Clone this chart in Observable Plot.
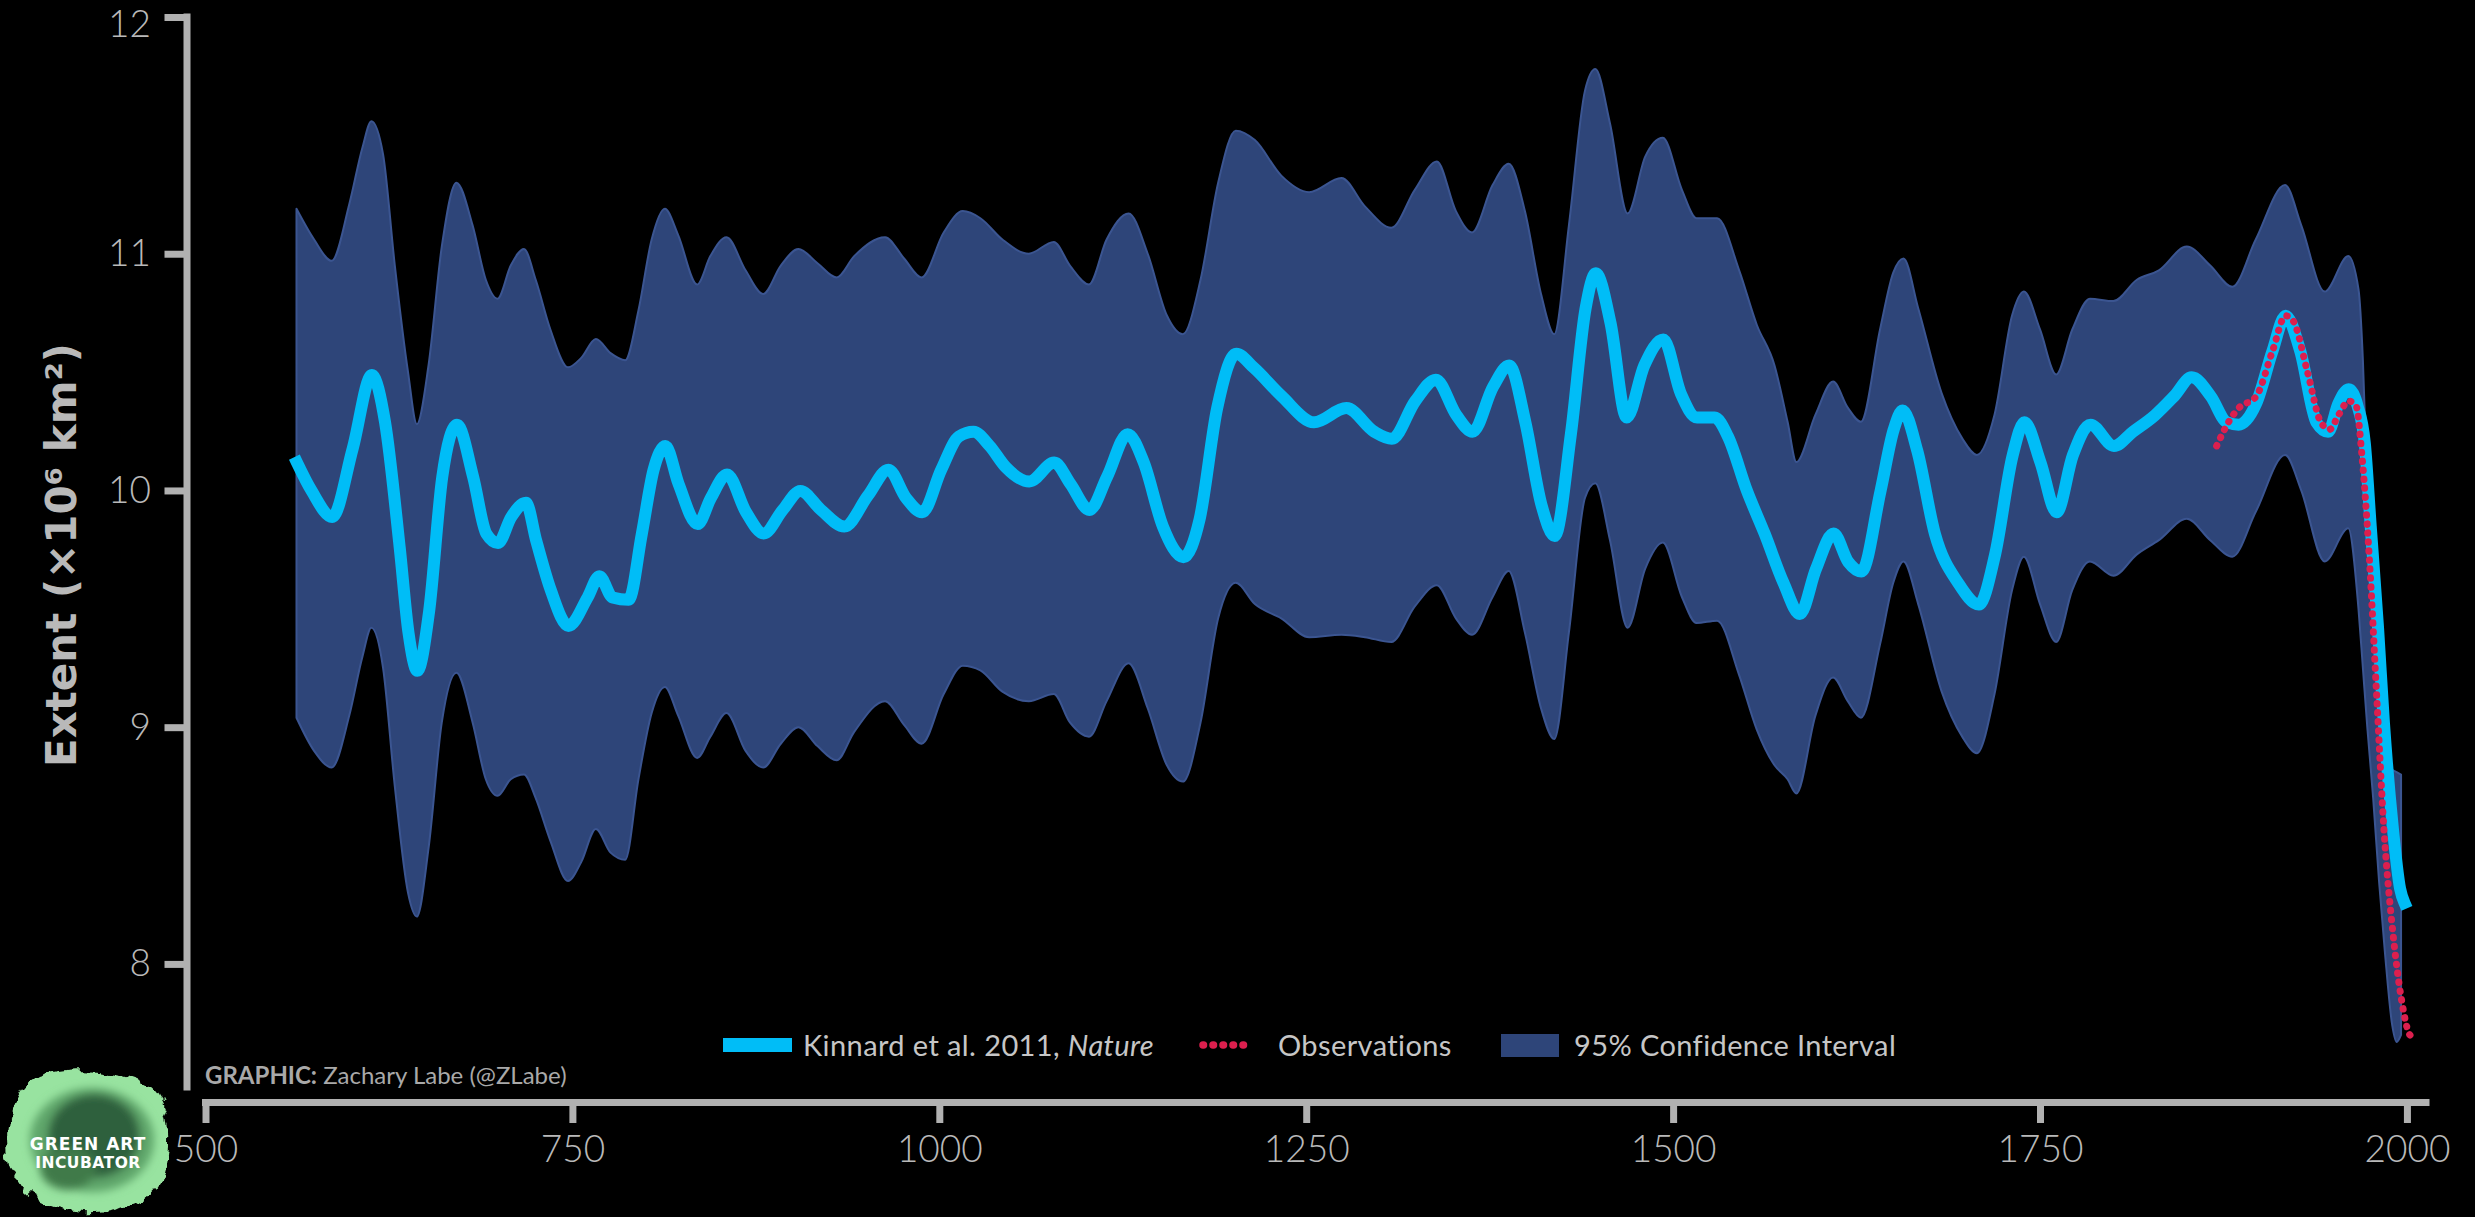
<!DOCTYPE html>
<html>
<head>
<meta charset="utf-8">
<script src="https://cdn.jsdelivr.net/npm/d3@7"></script>
<script src="https://cdn.jsdelivr.net/npm/@observablehq/plot@0.6"></script>
<style>
  html, body { margin: 0; padding: 0; background: #000; }
  #wrap { position: relative; width: 2475px; height: 1217px; background: #000; overflow: hidden;
          font-family: Lato, "Open Sans", "DejaVu Sans", sans-serif; }
  #chart svg { display: block; }
  .leg-text { position: absolute; height: 40px; line-height: 40px; font-size: 29px; letter-spacing: 0.4px; color: #c6c6c6; white-space: nowrap; }
  .sw { position: absolute; }
  #credit { position: absolute; left: 205px; top: 1061px; font-size: 24px; line-height: 28px; color: #a9a9a9; white-space: nowrap; }
  #credit b { font-weight: 700; }
  #logo { position: absolute; left: 0; top: 1064px; }
</style>
</head>
<body>
<div id="wrap">
  <div id="chart"></div>
  <div id="legend"></div>
  <div id="credit"></div>
  <svg id="logo" width="180" height="153" viewBox="0 0 180 153">
    <defs>
      <filter id="rough" x="-20%" y="-20%" width="140%" height="140%">
        <feTurbulence type="fractalNoise" baseFrequency="0.07" numOctaves="2" seed="3" result="n"/>
        <feDisplacementMap in="SourceGraphic" in2="n" scale="18" xChannelSelector="R" yChannelSelector="G"/>
      </filter>
      <filter id="soft"><feGaussianBlur stdDeviation="4"/></filter>
    </defs>
    <g filter="url(#rough)">
      <path d="M38,12 C70,0 122,4 150,22 C174,40 170,90 162,114 C152,140 112,150 82,148 C46,145 16,130 10,98 C4,66 12,26 38,12Z" fill="#98e3a0"/>
    </g>
    <g filter="url(#soft)">
      <ellipse cx="92" cy="76" rx="62" ry="52" fill="#5fa66a"/>
      <ellipse cx="94" cy="72" rx="46" ry="42" fill="#2f603c"/>
      <ellipse cx="68" cy="104" rx="28" ry="22" fill="#3f7a4a"/>
    </g>
    <text x="88" y="86" text-anchor="middle" font-family="DejaVu Sans, sans-serif" font-weight="bold" font-size="17" letter-spacing="1" fill="#ffffff">GREEN ART</text>
    <text x="88" y="104" text-anchor="middle" font-family="DejaVu Sans, sans-serif" font-weight="bold" font-size="15.5" letter-spacing="0.5" fill="#ffffff">INCUBATOR</text>
  </svg>
</div>
<script>
// ---------------- data ----------------
const xTicks = [500, 750, 1000, 1250, 1500, 1750, 2000];
const yTicks = [8, 9, 10, 11, 12];
const yLabel = "Extent (×10⁶ km²)";
const legendLabels = ["Kinnard et al. 2011, ", "Nature", "Observations", "95% Confidence Interval"];
const creditBold = "GRAPHIC:";
const creditText = " Zachary Labe (@ZLabe)";

// Kinnard et al. 2011 reconstruction (smoothed)
const kinnardYears = [
  562, 572, 586, 600, 613, 622, 632, 638, 644, 652,
  661, 671, 682, 691, 699, 708, 718, 725, 735, 747,
  760, 768, 777, 788, 797, 805, 813, 822, 835, 844,
  855, 868, 880, 893, 905, 919, 935, 951, 965, 977,
  988, 1001, 1013, 1023, 1034, 1045, 1061, 1078, 1089, 1102,
  1114, 1128, 1139, 1152, 1166, 1177, 1189, 1202, 1214, 1233,
  1255, 1277, 1296, 1308, 1324, 1338, 1352, 1363, 1377, 1388,
  1399, 1410, 1419, 1430, 1440, 1447, 1457, 1468, 1480, 1493,
  1505, 1516, 1528, 1537, 1550, 1562, 1575, 1586, 1597, 1609,
  1619, 1628, 1641, 1650, 1656, 1666, 1678, 1694, 1708, 1719,
  1731, 1739, 1750, 1761, 1772, 1784, 1800, 1813, 1828, 1841,
  1853, 1866, 1877, 1885, 1897, 1908, 1917, 1927, 1938, 1946,
  1953, 1960, 1966, 1971, 1975, 1980, 1984, 1990, 1995, 1998
];
const kinnardExtent = [
  10.12, 10.00, 9.89, 10.18, 10.49, 10.29, 9.76, 9.40, 9.24, 9.49,
  10.06, 10.28, 10.06, 9.82, 9.78, 9.89, 9.95, 9.79, 9.58, 9.43,
  9.55, 9.64, 9.55, 9.54, 9.82, 10.09, 10.19, 10.03, 9.86, 9.97,
  10.07, 9.91, 9.82, 9.92, 10.00, 9.92, 9.85, 9.98, 10.09, 9.97,
  9.91, 10.09, 10.23, 10.25, 10.19, 10.10, 10.04, 10.12, 10.03, 9.92,
  10.06, 10.24, 10.12, 9.85, 9.72, 9.88, 10.35, 10.58, 10.52, 10.40,
  10.29, 10.35, 10.25, 10.22, 10.38, 10.47, 10.32, 10.25, 10.44, 10.53,
  10.29, 9.94, 9.81, 10.24, 10.77, 10.92, 10.71, 10.31, 10.53, 10.64,
  10.41, 10.31, 10.31, 10.23, 10.00, 9.82, 9.61, 9.48, 9.67, 9.82,
  9.70, 9.66, 10.00, 10.26, 10.34, 10.17, 9.82, 9.61, 9.52, 9.73,
  10.15, 10.29, 10.12, 9.91, 10.15, 10.28, 10.19, 10.25, 10.32, 10.40,
  10.48, 10.40, 10.29, 10.28, 10.37, 10.59, 10.74, 10.59, 10.29, 10.25,
  10.37, 10.43, 10.36, 10.20, 9.85, 9.42, 9.02, 8.58, 8.32, 8.26
];

// 95% confidence interval
const ciYears = [
  562, 574, 586, 598, 607, 613, 621, 629, 638, 644,
  652, 661, 671, 682, 691, 699, 708, 717, 725, 735,
  747, 756, 766, 776, 786, 795, 804, 813, 822, 835,
  844, 855, 868, 880, 892, 904, 917, 930, 942, 963,
  976, 988, 1003, 1016, 1028, 1043, 1061, 1078, 1089, 1102,
  1114, 1129, 1142, 1155, 1166, 1178, 1190, 1202, 1215, 1233,
  1252, 1274, 1290, 1308, 1324, 1339, 1352, 1363, 1377, 1388,
  1399, 1410, 1419, 1429, 1440, 1447, 1457, 1469, 1481, 1493,
  1506, 1516, 1530, 1545, 1557, 1569, 1578, 1584, 1597, 1609,
  1619, 1628, 1641, 1650, 1657, 1667, 1683, 1697, 1707, 1719,
  1731, 1739, 1750, 1761, 1772, 1784, 1800, 1816, 1831, 1850,
  1866, 1881, 1897, 1917, 1928, 1944, 1960, 1967, 1970, 1973,
  1977, 1981, 1985, 1990, 1993, 1996
];
const ciUpper = [
  11.19, 11.06, 10.97, 11.21, 11.45, 11.56, 11.42, 10.95, 10.50, 10.28,
  10.53, 11.03, 11.30, 11.12, 10.89, 10.81, 10.95, 11.02, 10.89, 10.68,
  10.52, 10.56, 10.64, 10.58, 10.55, 10.76, 11.06, 11.19, 11.08, 10.87,
  10.99, 11.07, 10.93, 10.83, 10.95, 11.02, 10.96, 10.90, 10.99, 11.07,
  10.98, 10.90, 11.09, 11.18, 11.15, 11.06, 11.00, 11.05, 10.95, 10.87,
  11.06, 11.17, 11.00, 10.74, 10.66, 10.89, 11.30, 11.52, 11.48, 11.33,
  11.26, 11.32, 11.20, 11.11, 11.27, 11.39, 11.18, 11.09, 11.29, 11.38,
  11.18, 10.83, 10.66, 11.12, 11.69, 11.78, 11.55, 11.17, 11.41, 11.49,
  11.27, 11.15, 11.15, 10.93, 10.70, 10.53, 10.29, 10.12, 10.32, 10.46,
  10.35, 10.29, 10.68, 10.92, 10.98, 10.77, 10.41, 10.22, 10.15, 10.32,
  10.74, 10.84, 10.68, 10.49, 10.68, 10.81, 10.80, 10.89, 10.93, 11.03,
  10.95, 10.86, 11.06, 11.29, 11.12, 10.84, 10.99, 10.85, 10.55, 10.00,
  9.40, 9.00, 8.86, 8.82, 8.81, 8.80
];
const ciLower = [
  9.04, 8.90, 8.83, 9.05, 9.30, 9.42, 9.25, 8.75, 8.30, 8.20,
  8.49, 9.02, 9.23, 9.02, 8.78, 8.71, 8.78, 8.80, 8.70, 8.52,
  8.35, 8.43, 8.57, 8.47, 8.44, 8.78, 9.06, 9.17, 9.05, 8.87,
  8.96, 9.06, 8.90, 8.83, 8.93, 9.00, 8.92, 8.86, 8.98, 9.11,
  9.01, 8.93, 9.14, 9.26, 9.24, 9.15, 9.11, 9.14, 9.02, 8.96,
  9.11, 9.27, 9.08, 8.84, 8.77, 9.02, 9.46, 9.61, 9.52, 9.46,
  9.38, 9.39, 9.38, 9.36, 9.51, 9.60, 9.46, 9.39, 9.55, 9.66,
  9.40, 9.08, 8.95, 9.40, 9.97, 10.03, 9.79, 9.42, 9.67, 9.78,
  9.55, 9.44, 9.45, 9.22, 8.99, 8.84, 8.78, 8.72, 9.05, 9.21,
  9.11, 9.04, 9.35, 9.61, 9.70, 9.52, 9.15, 8.96, 8.89, 9.14,
  9.58, 9.72, 9.52, 9.36, 9.58, 9.70, 9.64, 9.73, 9.79, 9.88,
  9.79, 9.72, 9.91, 10.15, 10.00, 9.70, 9.84, 9.50, 9.25, 9.00,
  8.70, 8.35, 8.05, 7.74, 7.67, 7.70
];

// Observations
const obsYears = [
  1870, 1879, 1885, 1897, 1908, 1917, 1922, 1932, 1941, 1947,
  1953, 1960, 1965, 1969, 1974, 1979, 1984, 1990, 1996, 2002, 2006
];
const obsExtent = [
  10.19, 10.30, 10.35, 10.40, 10.59, 10.74, 10.72, 10.50, 10.29, 10.26,
  10.32, 10.38, 10.36, 10.15, 9.72, 9.14, 8.57, 8.14, 7.85, 7.70, 7.69
];

// ---------------- styles ----------------
const cyan = "#00bdf7";
const red = "#dc1f4e";
const ciFill = "#2e4579";
const axisGrey = "#b1b1b1";
const textGrey = "#b9b9b9";
const xDomain = [500, 2013];
const yDomain = [7.48, 12];

const kData = kinnardYears.map((year, i) => ({year, v: kinnardExtent[i]}));
const oData = obsYears.map((year, i) => ({year, v: obsExtent[i]}));
const ciData = ciYears.map((year, i) => ({year, upper: ciUpper[i], lower: ciLower[i]}));

const yTextOpts = {tickSize: 22, tickPadding: 14, stroke: "none", fill: textGrey, label: null,
  tickFormat: d => String(d), fontSize: 37, fontWeight: 300};

const chart = Plot.plot({
  width: 2475,
  height: 1217,
  marginLeft: 186.5,
  marginRight: 49,
  marginTop: 17,
  marginBottom: 115,
  style: {background: "#000", color: textGrey, fontFamily: "Lato, 'Open Sans', sans-serif", fontSize: "37px"},
  x: {domain: xDomain, insetLeft: 19},
  y: {domain: yDomain, insetBottom: 15},
  marks: [
    Plot.areaY(ciData, {x: "year", y1: "lower", y2: "upper", curve: "monotone-x",
      fill: ciFill, stroke: "#3b5591", strokeWidth: 2}),
    Plot.line(kData, {x: "year", y: "v", curve: "monotone-x", stroke: cyan,
      strokeWidth: 12, strokeLinecap: "square", strokeLinejoin: "round"}),
    Plot.line(oData, {x: "year", y: "v", curve: "monotone-x", stroke: red,
      strokeWidth: 7, strokeDasharray: "0.5,8.5", strokeLinecap: "round"}),
    Plot.ruleX([xDomain[0]], {y1: yDomain[0], y2: yDomain[1], dx: -19,
      stroke: axisGrey, strokeWidth: 7, strokeLinecap: "square"}),
    Plot.ruleY([yDomain[0]], {x1: xDomain[0], x2: xDomain[1], dy: 15,
      stroke: axisGrey, strokeWidth: 7, strokeLinecap: "square"}),
    // y ticks
    Plot.axisY({ticks: yTicks, tickSize: 22, strokeWidth: 7, stroke: axisGrey, fill: "none", label: null}),
    // y tick labels (top label kept inside the picture)
    Plot.axisY({...yTextOpts, ticks: yTicks.slice(0, -1)}),
    Plot.axisY({...yTextOpts, ticks: yTicks.slice(-1), lineAnchor: "top", dy: -7}),
    Plot.axisX({ticks: xTicks, tickSize: 21, tickPadding: 12, strokeWidth: 7,
      tickFormat: d => String(d), stroke: axisGrey, fill: textGrey, label: null,
      fontSize: 37, fontWeight: 300}),
    Plot.text([yLabel], {text: d => d, frameAnchor: "left", textAnchor: "middle", dx: -124, dy: -5,
      rotate: -90, fontSize: 42, fontWeight: "bold", fontFamily: "'DejaVu Sans', sans-serif", fill: textGrey})
  ]
});
document.getElementById("chart").appendChild(chart);

// ---------------- legend ----------------
const legend = document.getElementById("legend");
function add(el) { legend.appendChild(el); return el; }
function sw(left, top, w, h, bg) {
  const d = document.createElement("div");
  d.className = "sw";
  Object.assign(d.style, {left: left + "px", top: top + "px", width: w + "px", height: h + "px", background: bg});
  return add(d);
}
function label(left, html) {
  const d = document.createElement("div");
  d.className = "leg-text";
  Object.assign(d.style, {left: left + "px", top: "1025px"});
  d.innerHTML = html;
  return add(d);
}
sw(723, 1038, 69, 14, cyan);
label(803, legendLabels[0] + "<i>" + legendLabels[1] + "</i>");
const dot = document.createElementNS("http://www.w3.org/2000/svg", "svg");
dot.setAttribute("width", "56"); dot.setAttribute("height", "12");
dot.setAttribute("class", "sw");
dot.style.left = "1199px"; dot.style.top = "1039px";
const ln = document.createElementNS("http://www.w3.org/2000/svg", "line");
ln.setAttribute("x1", "4"); ln.setAttribute("x2", "52"); ln.setAttribute("y1", "6"); ln.setAttribute("y2", "6");
ln.setAttribute("stroke", red); ln.setAttribute("stroke-width", "7.5");
ln.setAttribute("stroke-dasharray", "0.5,9.5"); ln.setAttribute("stroke-linecap", "round");
dot.appendChild(ln); add(dot);
label(1278, legendLabels[2]);
sw(1501, 1034, 58, 23, ciFill);
label(1574, legendLabels[3]);

document.getElementById("credit").innerHTML = "<b>" + creditBold + "</b>" + creditText;
</script>
</body>
</html>
